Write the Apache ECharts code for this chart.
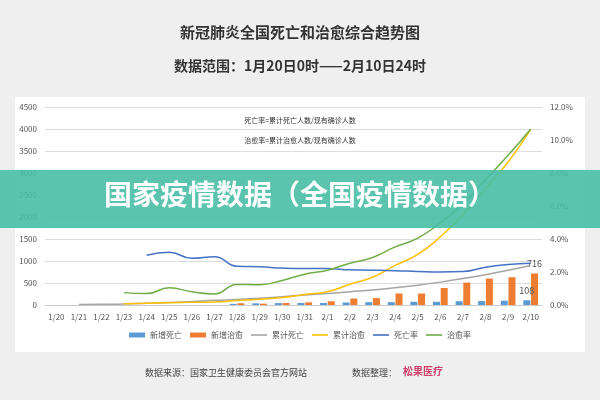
<!DOCTYPE html>
<html><head><meta charset="utf-8">
<script src="https://cdn.jsdelivr.net/npm/echarts@6/dist/echarts.min.js"></script>
<style>body{margin:0;background:#efefef}#chart{width:600px;height:400px}</style>
</head><body><div id="chart"></div>
<script>
var days = ['1/20','1/21','1/22','1/23','1/24','1/25','1/26','1/27','1/28','1/29','1/30','1/31','2/1','2/2','2/3','2/4','2/5','2/6','2/7','2/8','2/9','2/10'];
var newDeath = [null,null,null,null,null,null,null,null,26,38,43,46,45,57,64,65,73,73,86,89,97,108];
var newCured = [null,null,null,null,null,null,null,null,40,30,45,60,85,147,157,262,261,387,510,600,632,716];
var totalDeath = [null,9,17,25,41,56,80,106,125,155,190,225,260,300,340,390,450,520,600,690,790,900];
var totalCured = [null,null,null,30,40,50,60,70,100,130,170,240,300,470,630,900,1150,1550,2050,2650,3250,3990];
var deathRate = [null,null,null,null,3.01,3.2,2.83,2.93,2.35,2.32,2.24,2.21,2.21,2.13,2.11,2.08,2.03,2.0,2.03,2.29,2.45,2.53];
var cureRate = [null,null,null,0.75,0.69,1.04,0.8,0.67,1.25,1.23,1.49,1.87,2.11,2.53,2.88,3.52,4.05,4.99,6.13,7.6,9.07,10.67];

var chart = echarts.init(document.getElementById('chart'));
var f = '"Noto Sans CJK SC", sans-serif';
var lineIcon = 'path://M0,0h20v2H0z';
chart.setOption({
  backgroundColor: '#efefef',
  textStyle: { fontFamily: f },
  graphic: [
    { type: 'rect', shape: { x: 15, y: 97, width: 570, height: 255 }, style: { fill: '#fff' }, z: -1 },
    { type: 'text', left: 'center', top: 25, style: { text: '新冠肺炎全国死亡和治愈综合趋势图', font: 'bold 15px ' + f, fill: '#333' } },
    { type: 'text', left: 'center', top: 59, style: { text: '数据范围：1月20日0时——2月10日24时', font: 'bold 14px ' + f, fill: '#333' } },
    { type: 'text', left: 'center', top: 117, style: { text: '死亡率=累计死亡人数/现有确诊人数', font: '7px ' + f, fill: '#333' } },
    { type: 'text', left: 'center', top: 137, style: { text: '治愈率=累计治愈人数/现有确诊人数', font: '7px ' + f, fill: '#333' } },
    { type: 'rect', shape: { x: 0, y: 170, width: 600, height: 58 }, style: { fill: 'rgba(72,190,165,0.9)' }, z: 100 },
    { type: 'text', left: 'center', top: 180, z: 101, style: { text: '国家疫情数据（全国疫情数据）', font: 'bold 28px ' + f, fill: '#fff' } },
    { type: 'text', left: 145, top: 368, style: { text: '数据来源：国家卫生健康委员会官方网站', font: '9px ' + f, fill: '#444' } },
    { type: 'text', left: 352, top: 368, style: { text: '数据整理：', font: '9px ' + f, fill: '#444' } },
    { type: 'text', left: 403, top: 366, style: { text: '松果医疗', font: 'bold 10px ' + f, fill: '#d0406a' } }
  ],
  legend: {
    bottom: 56, itemWidth: 16, itemHeight: 5, itemGap: 8,
    textStyle: { fontSize: 8, color: '#555' },
    data: [
      { name: '新增死亡', icon: 'rect' }, { name: '新增治愈', icon: 'rect' },
      { name: '累计死亡', icon: lineIcon }, { name: '累计治愈', icon: lineIcon },
      { name: '死亡率', icon: lineIcon }, { name: '治愈率', icon: lineIcon }
    ]
  },
  grid: { left: 45, right: 58, top: 107, bottom: 95 },
  xAxis: {
    type: 'category', data: days,
    axisLine: { lineStyle: { color: '#ccc' } }, axisTick: { show: false },
    axisLabel: { fontSize: 8, color: '#555', interval: 0 }
  },
  yAxis: [
    { type: 'value', min: 0, max: 4500, interval: 500,
      axisLabel: { fontSize: 8, color: '#555', formatter: function (v) { return String(v); } },
      splitLine: { lineStyle: { color: '#ddd' } } },
    { type: 'value', min: 0, max: 12, interval: 2,
      axisLabel: { fontSize: 8, color: '#555', formatter: function (v) { return v.toFixed(1) + '%'; } },
      splitLine: { show: false } }
  ],
  series: [
    { name: '新增死亡', type: 'bar', data: newDeath, barWidth: 7, itemStyle: { color: '#5b9bd5' },
      label: { show: true, position: 'top', fontSize: 9, color: '#555', formatter: function (p) { return p.dataIndex === 21 ? p.value : ''; } } },
    { name: '新增治愈', type: 'bar', data: newCured, barWidth: 7, itemStyle: { color: '#ed7d31' },
      label: { show: true, position: 'top', fontSize: 9, color: '#555', formatter: function (p) { return p.dataIndex === 21 ? p.value : ''; } } },
    { name: '累计死亡', type: 'line', data: totalDeath, smooth: true, symbol: 'none', lineStyle: { color: '#a5a5a5', width: 1.5 }, itemStyle: { color: '#a5a5a5' } },
    { name: '累计治愈', type: 'line', data: totalCured, smooth: true, symbol: 'none', lineStyle: { color: '#ffc000', width: 1.5 }, itemStyle: { color: '#ffc000' } },
    { name: '死亡率', type: 'line', yAxisIndex: 1, data: deathRate, smooth: true, symbol: 'none', lineStyle: { color: '#4472c4', width: 1.5 }, itemStyle: { color: '#4472c4' } },
    { name: '治愈率', type: 'line', yAxisIndex: 1, data: cureRate, smooth: true, symbol: 'none', lineStyle: { color: '#70ad47', width: 1.5 }, itemStyle: { color: '#70ad47' } }
  ]
});
</script></body></html>
